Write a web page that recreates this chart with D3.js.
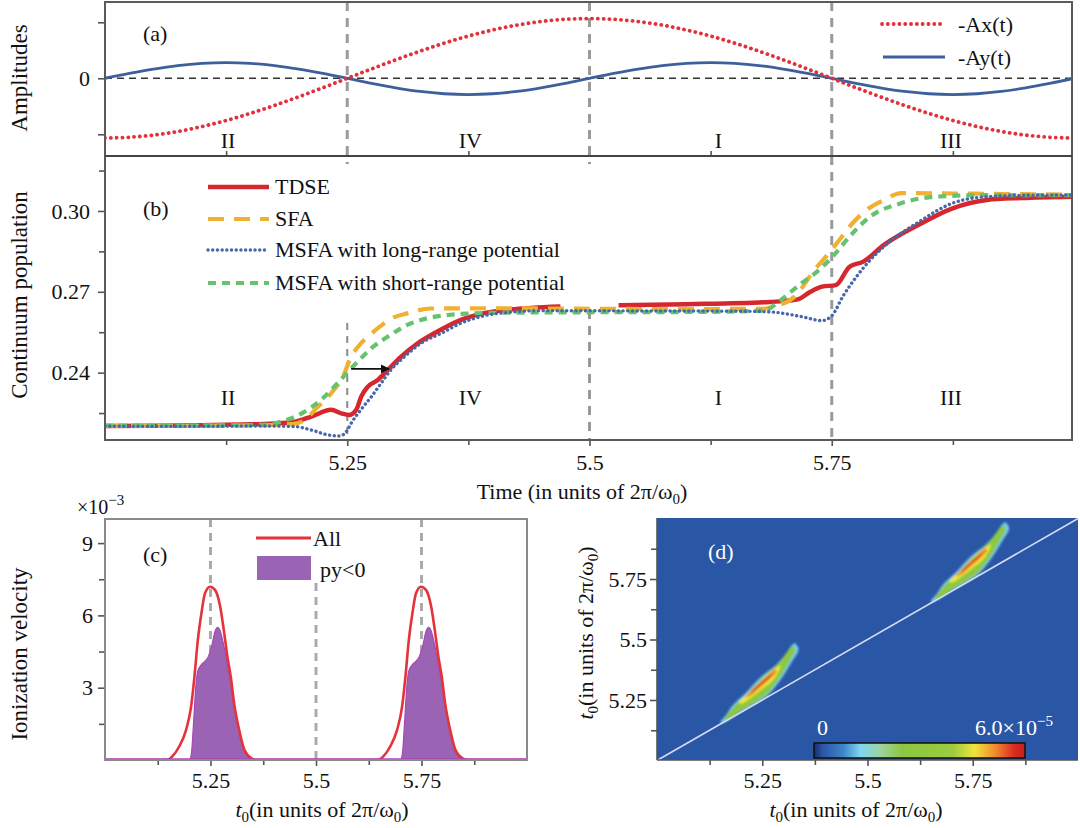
<!DOCTYPE html>
<html><head><meta charset="utf-8">
<script src="https://cdn.jsdelivr.net/npm/d3@7"></script>
<style>body{margin:0;background:#fff}</style>
</head><body><svg id="chart" width="1080" height="828"></svg>
<script>
// ---------- DATA ----------
// panel (a): vector potential components
const ampT = [5.000,5.025,5.050,5.075,5.100,5.125,5.150,5.175,5.200,5.225,5.250,5.275,5.300,5.325,5.350,5.375,5.400,5.425,5.450,5.475,5.500,5.525,5.550,5.575,5.600,5.625,5.650,5.675,5.700,5.725,5.750,5.775,5.800,5.825,5.850,5.875,5.900,5.925,5.950,5.975,6.000];
const negAx = [-1.066,-1.053,-1.014,-0.950,-0.862,-0.754,-0.627,-0.484,-0.329,-0.167,0,0.167,0.329,0.484,0.627,0.754,0.862,0.950,1.014,1.053,1.066,1.053,1.014,0.950,0.862,0.754,0.627,0.484,0.329,0.167,0,-0.167,-0.329,-0.484,-0.627,-0.754,-0.862,-0.950,-1.014,-1.053,-1.066];
const negAy = [0,0.087,0.165,0.227,0.266,0.280,0.266,0.227,0.165,0.087,0,-0.090,-0.170,-0.235,-0.276,-0.290,-0.276,-0.235,-0.170,-0.090,0,0.087,0.165,0.227,0.266,0.280,0.266,0.227,0.165,0.087,0,-0.090,-0.170,-0.235,-0.276,-0.290,-0.276,-0.235,-0.170,-0.090,0];
const ampLegend = ["-Ax(t)","-Ay(t)"];
const regionNames = ["II","IV","I","III"];
const regionCenters = [5.127,5.377,5.633,5.873];
const quarterLines = [5.25,5.5,5.75];

// panel (b): continuum population
const tdseT = [5.00,5.05,5.10,5.15,5.18,5.196,5.213,5.2335,5.2438,5.2524,5.2593,5.2644,5.2713,5.2816,5.2919,5.3056,5.3227,5.3398,5.3673,5.39,5.42,5.44,5.47,5.50,5.53,5.60,5.68,5.715,5.728,5.740,5.7542,5.7684,5.7826,5.8039,5.8393,5.8747,5.9102,5.9455,6.00];
const tdseV = [0.2202,0.2203,0.2205,0.2208,0.2212,0.2218,0.2237,0.2262,0.2249,0.2243,0.2262,0.2311,0.2348,0.2373,0.2410,0.2459,0.2509,0.2546,0.2596,0.2620,0.2635,0.2640,0.2645,NaN,0.2650,0.2654,0.2661,0.2672,0.2700,0.2719,0.2725,0.2793,0.2812,0.2874,0.2948,0.3010,0.3041,0.3048,0.3053];
const sfaT = [5.00,5.10,5.17,5.195,5.205,5.22,5.2335,5.2472,5.2524,5.262,5.275,5.287,5.298,5.312,5.336,5.40,5.50,5.60,5.68,5.6903,5.7117,5.733,5.747,5.7578,5.7684,5.786,5.804,5.8216,5.90,6.00];
const sfaV = [0.2202,0.2203,0.2205,0.2210,0.2222,0.2274,0.2324,0.2398,0.2447,0.2500,0.2545,0.2580,0.2605,0.2620,0.2638,0.2639,0.2637,0.2636,0.2637,0.2645,0.2682,0.2785,0.2843,0.2892,0.2942,0.3004,0.3041,0.3066,0.3064,0.3060];
const longT = [5.00,5.10,5.1615,5.1955,5.213,5.230,5.242,5.249,5.254,5.264,5.275,5.285,5.295,5.309,5.326,5.347,5.367,5.39,5.42,5.45,5.55,5.65,5.6834,5.7188,5.740,5.7507,5.7613,5.7755,5.7897,5.8039,5.8393,5.8747,5.910,5.95,6.00];
const longV = [0.2201,0.2201,0.2202,0.2200,0.2187,0.2169,0.2165,0.2181,0.2212,0.2262,0.2311,0.2361,0.2410,0.2459,0.2509,0.2546,0.2583,0.2610,0.2625,0.2630,0.2629,0.2628,0.2626,0.2608,0.2593,0.2614,0.2682,0.2756,0.2818,0.2868,0.2958,0.3029,0.3053,0.3058,0.3059];
const shortT = [5.00,5.10,5.16,5.182,5.203,5.223,5.240,5.251,5.264,5.275,5.292,5.312,5.333,5.354,5.40,5.50,5.60,5.68,5.6975,5.7188,5.733,5.7507,5.7684,5.7897,5.8216,5.857,5.910,6.00];
const shortV = [0.2203,0.2204,0.2206,0.2218,0.2249,0.2299,0.2361,0.2404,0.2453,0.2491,0.2534,0.2577,0.2602,0.2614,0.2622,0.2624,0.2625,0.2630,0.2670,0.2732,0.2769,0.2830,0.2905,0.2979,0.3029,0.3053,0.3059,0.3059];
const popLegend = ["TDSE","SFA","MSFA with long-range potential","MSFA with short-range potential"];
const popTicks = [0.24,0.27,0.30];
const popMinor = [0.225,0.255,0.285,0.315];
const arrowT = [5.254,5.293], arrowV = 0.2414;

// panel (c): ionization velocity (x10^-3)
const allT = [5.00,5.10,5.14,5.151,5.159,5.1755,5.192,5.204,5.212,5.220,5.2285,5.237,5.249,5.261,5.273,5.2815,5.290,5.298,5.306,5.318,5.3305,5.347,5.36,5.45,5.55,5.64,5.651,5.659,5.6755,5.692,5.704,5.712,5.720,5.7285,5.737,5.749,5.761,5.773,5.7815,5.790,5.798,5.806,5.818,5.8305,5.847,5.86,5.95,6.00];
const allV = [0,0,0,0.03,0.14,0.55,1.24,2.21,3.46,4.98,6.09,6.92,7.19,7.05,6.36,5.39,4.29,3.46,2.35,1.24,0.41,0.07,0,0,0,0,0.03,0.14,0.55,1.24,2.21,3.46,4.98,6.09,6.92,7.19,7.05,6.36,5.39,4.29,3.46,2.35,1.24,0.41,0.07,0,0,0];
const pyT = [5.00,5.19,5.200,5.205,5.210,5.215,5.220,5.228,5.237,5.245,5.2525,5.261,5.267,5.273,5.2815,5.290,5.298,5.306,5.318,5.330,5.347,5.36,5.69,5.700,5.705,5.710,5.715,5.720,5.728,5.737,5.745,5.7525,5.761,5.767,5.773,5.7815,5.790,5.798,5.806,5.818,5.830,5.847,5.86,6.00];
const pyV = [0,0,0,0.3,1.6,3.0,3.7,3.95,4.1,4.3,4.7,5.35,5.5,5.35,4.75,3.95,3.2,2.3,1.2,0.4,0.05,0,0,0,0.3,1.6,3.0,3.7,3.95,4.1,4.3,4.7,5.35,5.5,5.35,4.75,3.95,3.2,2.3,1.2,0.4,0.05,0,0];
const velLegend = ["All","py<0"];
const velTicks = [3,6,9], velMinor = [1.5,4.5,7.5];
const timeTicks = [5.25,5.5,5.75], timeMinor = [5.125,5.375,5.625,5.875];

// panel (d): contour levels (fraction of max) of one crescent, and pulse offsets
const blobLevels = [0.21,0.45,0.76,0.86,0.96];
const blobShapes = [
 [[5.150,5.156],[5.165,5.19],[5.18,5.228],[5.21,5.278],[5.25,5.350],[5.283,5.395],[5.307,5.442],[5.32,5.476],[5.327,5.485],[5.334,5.472],[5.336,5.455],[5.324,5.418],[5.30,5.35],[5.278,5.298],[5.262,5.268],[5.24,5.242],[5.20,5.201],[5.16,5.158]],
 [[5.160,5.168],[5.18,5.218],[5.21,5.268],[5.25,5.340],[5.28,5.386],[5.303,5.433],[5.316,5.465],[5.324,5.472],[5.328,5.455],[5.318,5.42],[5.297,5.356],[5.276,5.305],[5.262,5.276],[5.24,5.248],[5.20,5.206],[5.168,5.168]],
 [[5.195,5.24],[5.22,5.282],[5.25,5.334],[5.28,5.380],[5.293,5.392],[5.288,5.366],[5.272,5.326],[5.25,5.296],[5.225,5.262],[5.20,5.234]],
 [[5.21,5.262],[5.235,5.303],[5.258,5.341],[5.28,5.376],[5.284,5.368],[5.268,5.336],[5.245,5.302],[5.222,5.268]],
 [[5.222,5.282],[5.242,5.316],[5.262,5.346],[5.272,5.358],[5.266,5.343],[5.248,5.316],[5.230,5.288]]
];
const pulseShift = [0,0.5];
const cbStops = [0,0.04,0.14,0.22,0.32,0.42,0.66,0.76,0.86,0.95,1];
const cbColors = ["#1b2a6b","#2a56a6","#3f86c8","#7fd6f0","#9cd49a","#8cc63f","#9ccb3e","#f0e43c","#f08a2c","#d82a20","#c8201c"];
const cbMax = 6.0e-5;

// ---------- DRAW ----------
const FONT = '"Liberation Serif","Times New Roman",Times,serif';
const svg = d3.select("#chart");
const defs = svg.append("defs");

const xT = d3.scaleLinear().domain([5,6]).range([105,1074]);
const yA = d3.scaleLinear().domain([-1.3875,1.3625]).range([156,2]);
const yB = d3.scaleLinear().domain([0.215,0.3204]).range([440,156]);
const xC = d3.scaleLinear().domain([5,6]).range([105,527]);
const yC = d3.scaleLinear().domain([0,10]).range([760,519]);
const xD = d3.scaleLinear().domain([5,6]).range([657,1078]);
const yD = d3.scaleLinear().domain([5,6]).range([760.5,518.5]);
const cScale = d3.scaleLinear().domain(cbStops).range(cbColors);

defs.append("clipPath").attr("id","clipAB").append("rect").attr("x",105).attr("y",2).attr("width",967).attr("height",438);
defs.append("clipPath").attr("id","clipC").append("rect").attr("x",105).attr("y",519).attr("width",422).attr("height",241);
defs.append("clipPath").attr("id","clipD").append("rect").attr("x",657).attr("y",518).attr("width",421).attr("height",242);
defs.append("filter").attr("id","blur").attr("x","-20%").attr("y","-20%").attr("width","140%").attr("height","140%")
  .append("feGaussianBlur").attr("stdDeviation",1.1);
defs.append("marker").attr("id","arrow").attr("viewBox","0 0 10 10").attr("refX",9).attr("refY",5)
  .attr("markerWidth",5).attr("markerHeight",5).attr("orient","auto")
  .append("path").attr("d","M0,0L10,5L0,10z").attr("fill","#111");

function txt(x,y,s,opt={}){
  const t = svg.append("text").attr("x",x).attr("y",y).attr("font-family",FONT)
    .attr("font-size",opt.size||22).attr("fill",opt.fill||"#111").attr("text-anchor",opt.anchor||"start");
  if(opt.rot) t.attr("transform",`rotate(-90,${x},${y})`);
  return t.text(s);
}
function richText(x,y,parts,opt={}){
  const t = svg.append("text").attr("x",x).attr("y",y).attr("font-family",FONT)
    .attr("font-size",opt.size||22).attr("fill",opt.fill||"#111").attr("text-anchor",opt.anchor||"middle");
  if(opt.rot) t.attr("transform",`rotate(-90,${x},${y})`);
  parts.forEach(p=>{
    const s = t.append("tspan").text(p.s);
    if(p.it) s.attr("font-style","italic");
    if(p.sub) s.attr("font-size",15).attr("dy",5);
    if(p.sup) s.attr("font-size",15).attr("dy",-9);
    if(p.back) s.attr("dy",p.back);
  });
  return t;
}
function lineOf(xs,ys,xs_,ys_,curve){
  return d3.line().defined(i=>!isNaN(ys[i])).x(i=>xs_(xs[i])).y(i=>ys_(ys[i])).curve(curve||d3.curveMonotoneX)(d3.range(xs.length));
}
function styleAxis(g,size){
  g.select(".domain").remove();
  g.selectAll("line").attr("stroke","#555").attr("stroke-width",1.6);
  g.selectAll("text").attr("font-family",FONT).attr("font-size",size||22).attr("fill","#111");
}
function addAxis(gen,tr,vals,fmt,size,pad){
  const g = svg.append("g").attr("transform",tr)
    .call(gen.tickValues(vals).tickFormat(fmt).tickSize(size).tickSizeOuter(0).tickPadding(pad||8));
  styleAxis(g); return g;
}
const none = ()=>"";
const fmtT = d=>String(d);

// ---- panel (a)/(b) shared guides ----
const gAB = svg.append("g").attr("clip-path","url(#clipAB)");
gAB.selectAll(".qa").data(quarterLines).join("line")
  .attr("x1",d=>xT(d)).attr("x2",d=>xT(d)).attr("y1",2).attr("y2",164)
  .attr("stroke","#9a9a9a").attr("stroke-width",3).attr("stroke-dasharray","9,7");
const bStarts = [323,310,156];
gAB.selectAll(".qb").data(quarterLines).join("line")
  .attr("x1",d=>xT(d)).attr("x2",d=>xT(d)).attr("y1",(d,i)=>bStarts[i]).attr("y2",440)
  .attr("stroke",(d,i)=>i===0?"#8a8a8a":"#9a9a9a").attr("stroke-width",(d,i)=>i===0?2:3)
  .attr("stroke-dasharray",(d,i)=>i===0?"7,6":"9,7");
gAB.append("line").attr("x1",105).attr("x2",1072).attr("y1",yA(0)).attr("y2",yA(0))
  .attr("stroke","#333").attr("stroke-width",1.6).attr("stroke-dasharray","7,5");

// panel (a) curves
gAB.append("path").attr("d",lineOf(ampT,negAy,xT,yA,d3.curveCatmullRom)).attr("fill","none")
  .attr("stroke","#3d5f9b").attr("stroke-width",2.8);
gAB.append("path").attr("d",lineOf(ampT,negAx,xT,yA,d3.curveCatmullRom)).attr("fill","none")
  .attr("stroke","#e2313b").attr("stroke-width",3.8).attr("stroke-linecap","round").attr("stroke-dasharray","0.1,5.7");

// panel (b) curves (legend order: TDSE, SFA, long-range, short-range)
const popStyles = [
  {t:tdseT,v:tdseV,c:"#d5272d",w:4.5,d:null,z:0},
  {t:sfaT,v:sfaV,c:"#f0b030",w:4.2,d:"16,10",z:1},
  {t:longT,v:longV,c:"#4568aa",w:3.4,d:"0.1,4.6",z:3},
  {t:shortT,v:shortV,c:"#64c270",w:4.2,d:"8,6",z:2}
];
const drawOrder = popStyles.slice().sort((a,b)=>a.z-b.z);
drawOrder.forEach(s=>{
  gAB.append("path").attr("d",lineOf(s.t,s.v,xT,yB)).attr("fill","none").attr("stroke",s.c)
    .attr("stroke-width",s.w).attr("stroke-dasharray",s.d).attr("stroke-linecap",s.d&&s.d.startsWith("0.1")?"round":"butt");
});
gAB.append("line").attr("x1",xT(arrowT[0])).attr("x2",xT(arrowT[1])).attr("y1",yB(arrowV)).attr("y2",yB(arrowV))
  .attr("stroke","#111").attr("stroke-width",1.8).attr("marker-end","url(#arrow)");

// legend (a)
svg.append("line").attr("x1",882).attr("x2",945).attr("y1",24).attr("y2",24).attr("stroke","#e2313b")
  .attr("stroke-width",3.8).attr("stroke-linecap","round").attr("stroke-dasharray","0.1,5.7");
svg.append("line").attr("x1",883).attr("x2",945).attr("y1",57).attr("y2",57).attr("stroke","#3d5f9b").attr("stroke-width",2.8);
txt(958,32,ampLegend[0]); txt(958,65,ampLegend[1]);
// legend (b)
const legY = [187,219,250,283];
popStyles.forEach((s,i)=>{
  svg.append("line").attr("x1",208).attr("x2",269).attr("y1",legY[i]).attr("y2",legY[i]).attr("stroke",s.c)
    .attr("stroke-width",s.w).attr("stroke-dasharray",s.d).attr("stroke-linecap",s.d&&s.d.startsWith("0.1")?"round":"butt");
  txt(275,legY[i]+7,popLegend[i]);
});

// region labels
regionNames.forEach((r,i)=>{
  txt(xT(regionCenters[i]),148,r,{anchor:"middle"});
  txt(xT(regionCenters[i]),405,r,{anchor:"middle"});
});
txt(143,41,"(a)"); txt(143,216,"(b)");

// axes (a),(b)
addAxis(d3.axisLeft(yA),"translate(105,0)",[-1,0,1],d=>d===0?"0":"",7);
addAxis(d3.axisLeft(yB),"translate(105,0)",popTicks,d3.format(".2f"),7);
addAxis(d3.axisLeft(yB),"translate(105,0)",popMinor,none,6);
addAxis(d3.axisBottom(xT),"translate(0,440)",timeTicks,fmtT,6);
addAxis(d3.axisBottom(xT),"translate(0,440)",timeMinor,none,5);
addAxis(d3.axisBottom(xT),"translate(0,156)",timeMinor,none,-5);
svg.append("rect").attr("x",105).attr("y",2).attr("width",967).attr("height",438).attr("fill","none")
  .attr("stroke","#5a5a5a").attr("stroke-width",2);
svg.append("line").attr("x1",105).attr("x2",1072).attr("y1",156).attr("y2",156).attr("stroke","#444").attr("stroke-width",2);

txt(19,78,"Amplitudes",{rot:true,anchor:"middle",size:23}).attr("dy","0.35em");
txt(19,295,"Continuum population",{rot:true,anchor:"middle",size:23}).attr("dy","0.35em");
richText(582,499,[{s:"Time (in units of 2π/ω"},{s:"0",sub:true},{s:")",back:-5}]);

// ---- panel (c) ----
const gC = svg.append("g").attr("clip-path","url(#clipC)");
const cStarts = [519,583,519];
gC.selectAll(".qc").data(quarterLines).join("line")
  .attr("x1",d=>xC(d)).attr("x2",d=>xC(d)).attr("y1",(d,i)=>cStarts[i]).attr("y2",760)
  .attr("stroke","#ababab").attr("stroke-width",3).attr("stroke-dasharray","8,6");
const pyIdx = d3.range(pyT.length);
gC.append("path").attr("d",d3.area().x(i=>xC(pyT[i])).y0(yC(0)).y1(i=>yC(pyV[i])).curve(d3.curveMonotoneX)(pyIdx))
  .attr("fill","#9a63b4").attr("stroke","#a846b6").attr("stroke-width",1.2);
gC.append("path").attr("d",lineOf(allT,allV,xC,yC)).attr("fill","none").attr("stroke","#e4333b").attr("stroke-width",2.6);
gC.append("line").attr("x1",105).attr("x2",527).attr("y1",yC(0)-1).attr("y2",yC(0)-1).attr("stroke","#a846b6").attr("stroke-width",1.5);
addAxis(d3.axisLeft(yC),"translate(105,0)",velTicks,d=>String(d),7,5);
addAxis(d3.axisLeft(yC),"translate(105,0)",velMinor,none,6);
addAxis(d3.axisBottom(xC),"translate(0,760)",timeTicks,fmtT,6,6);
addAxis(d3.axisBottom(xC),"translate(0,760)",timeMinor,none,5);
svg.append("rect").attr("x",105).attr("y",519).attr("width",422).attr("height",241).attr("fill","none")
  .attr("stroke","#8a8a8a").attr("stroke-width",2);
svg.append("line").attr("x1",256).attr("x2",311).attr("y1",538).attr("y2",538).attr("stroke","#e4333b").attr("stroke-width",3);
txt(313,546,velLegend[0]);
svg.append("rect").attr("x",257).attr("y",556).attr("width",54).attr("height",24).attr("fill","#9a63b4");
txt(320,577,velLegend[1]);
txt(143,562,"(c)");
richText(77,514,[{s:"×10"},{s:"−3",sup:true}],{anchor:"start",size:20});
txt(19,654,"Ionization velocity",{rot:true,anchor:"middle",size:23}).attr("dy","0.35em");
richText(322,817,[{s:"t",it:true},{s:"0",sub:true},{s:"(in units of 2π/ω",back:-5},{s:"0",sub:true},{s:")",back:-5}]);

// ---- panel (d) ----
const gD = svg.append("g").attr("clip-path","url(#clipD)");
gD.append("rect").attr("x",657).attr("y",518).attr("width",421).attr("height",242).attr("fill",cScale(0.04));
const gBlob = gD.append("g").attr("filter","url(#blur)");
pulseShift.forEach(s=>{
  blobShapes.forEach((shape,k)=>{
    gBlob.append("path")
      .attr("d",d3.line().x(p=>xD(p[0]+s)).y(p=>yD(p[1]+s)).curve(d3.curveCatmullRomClosed)(shape))
      .attr("fill",cScale(blobLevels[k]));
  });
});
gD.append("line").attr("x1",xD(5)).attr("y1",yD(5)).attr("x2",xD(6)).attr("y2",yD(6))
  .attr("stroke","#d6dcf2").attr("stroke-width",1.6);
const xCb = d3.scaleLinear().domain([0,cbMax]).range([814,1025]);
const grad = defs.append("linearGradient").attr("id","cbGrad");
cbStops.forEach((s,i)=>grad.append("stop").attr("offset",s).attr("stop-color",cbColors[i]));
gD.append("rect").attr("x",xCb(0)).attr("y",743).attr("width",xCb(cbMax)-xCb(0)).attr("height",15)
  .attr("fill","url(#cbGrad)").attr("stroke","#111").attr("stroke-width",1.5);
txt(xCb(0)+3,735,"0",{fill:"#fff"});
richText(975,735,[{s:"6.0×10"},{s:"−5",sup:true}],{anchor:"start",fill:"#fff"});
txt(708,559,"(d)",{fill:"#fff"});
addAxis(d3.axisLeft(yD),"translate(657,0)",timeTicks,fmtT,7,3);
addAxis(d3.axisLeft(yD),"translate(657,0)",timeMinor,none,6);
addAxis(d3.axisBottom(xD),"translate(0,760)",timeTicks,fmtT,6,6);
addAxis(d3.axisBottom(xD),"translate(0,760)",timeMinor,none,5);
svg.append("line").attr("x1",657).attr("x2",657).attr("y1",518).attr("y2",760).attr("stroke","#555").attr("stroke-width",1.6);
svg.append("line").attr("x1",657).attr("x2",1078).attr("y1",760).attr("y2",760).attr("stroke","#555").attr("stroke-width",1.6);
richText(856,817,[{s:"t",it:true},{s:"0",sub:true},{s:"(in units of 2π/ω",back:-5},{s:"0",sub:true},{s:")",back:-5}]);
richText(585,633,[{s:"t",it:true},{s:"0",sub:true},{s:"(in units of 2π/ω",back:-5},{s:"0",sub:true},{s:")",back:-5}],{rot:true}).attr("dy","0.35em");
</script></body></html>
